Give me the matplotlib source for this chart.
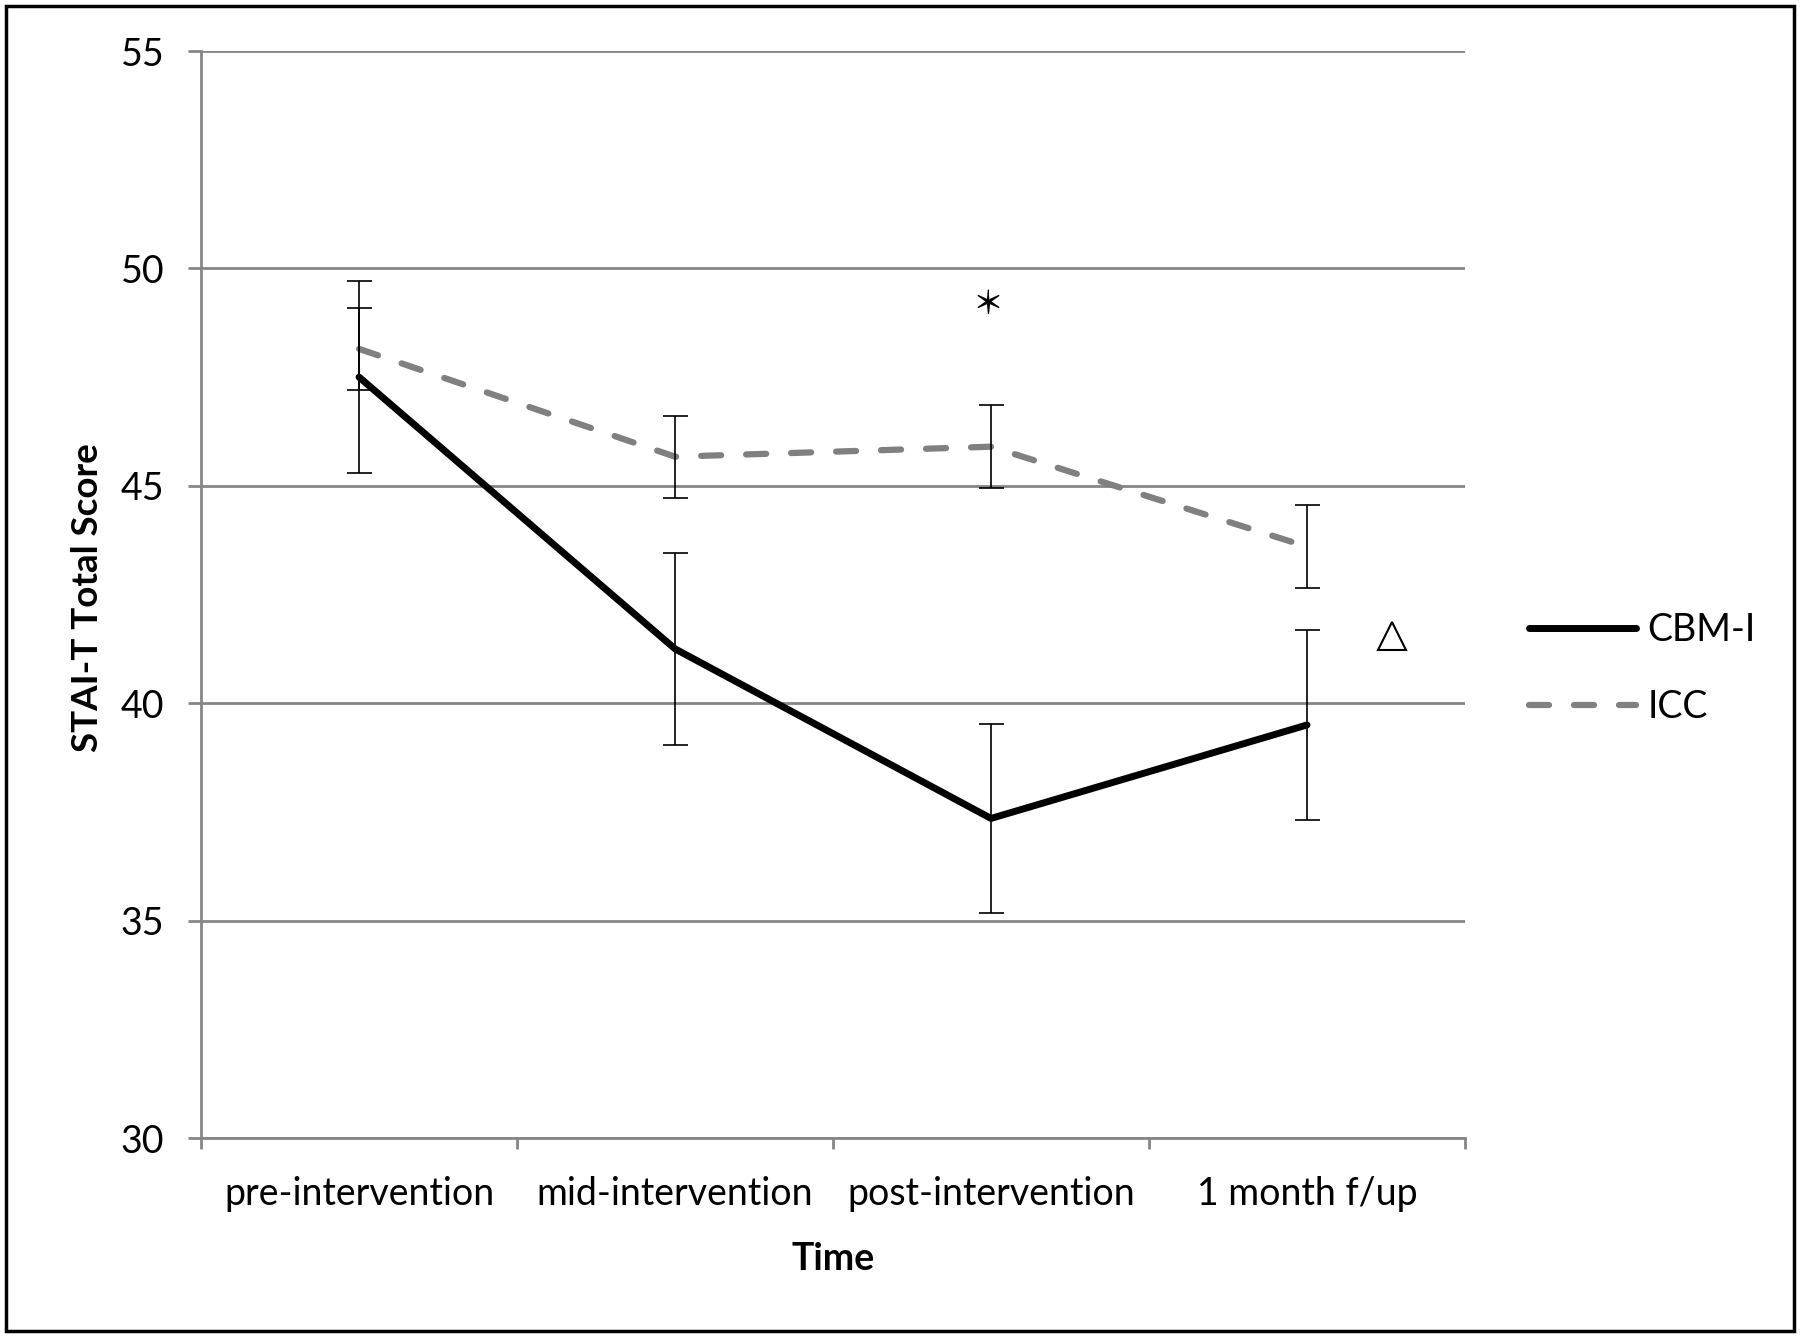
"""STAI-T 총점 변화 (CBM-I vs ICC) 라인 차트 재현."""
import matplotlib

matplotlib.use("Agg")
import matplotlib.pyplot as plt
import numpy as np
from matplotlib.patches import Rectangle

# ── 데이터 ──────────────────────────────────────────────────────
timepoints = ["pre-intervention", "mid-intervention", "post-intervention", "1 month f/up"]
cbm_mean = [47.5, 41.25, 37.35, 39.5]
cbm_err = [2.2, 2.2, 2.17, 2.19]
icc_mean = [48.15, 45.67, 45.9, 43.6]
icc_err = [0.95, 0.94, 0.95, 0.95]

# 유의성 표시 (x: 범주 인덱스 기준, y: 점수)
star_pos = (1.99, 49.25)
tri_pos = (3.27, 41.55)

yticks = [30, 35, 40, 45, 50, 55]

GRID = "#868686"
ICC_COLOR = "#808080"
FONT = "Lato"
FS = 27

plt.rcParams["font.family"] = [FONT, "DejaVu Sans"]


def _asterisk_marker(n=6, inner=0.16):
    """가는 살을 가진 6각 별표 마커 꼭짓점."""
    ang = np.pi / 2 + np.arange(2 * n) * np.pi / n
    r = np.where(np.arange(2 * n) % 2 == 0, 1.0, inner)
    return list(zip(r * np.cos(ang), r * np.sin(ang)))


fig = plt.figure(figsize=(18, 13.36), dpi=100, facecolor="white")
ax = fig.add_axes([0.1117, 0.1482, 0.7022, 0.8136])

x = [i + 0.5 for i in range(len(timepoints))]

# ── 시리즈 ──────────────────────────────────────────────────────
ax.plot(x, cbm_mean, color="black", lw=5, solid_capstyle="round",
        label="CBM-I", zorder=3)
ax.plot(x, icc_mean, color=ICC_COLOR, lw=4.5, dashes=(3.2, 4.0),
        dash_capstyle="round", label="ICC", zorder=3)
ax.errorbar(x, cbm_mean, yerr=cbm_err, fmt="none", ecolor="black",
            elinewidth=1.2, capsize=9, capthick=1.2, zorder=4)
ax.errorbar(x, icc_mean, yerr=icc_err, fmt="none", ecolor="black",
            elinewidth=1.2, capsize=9, capthick=1.2, zorder=4)

ax.plot(star_pos[0] + 0.5, star_pos[1], marker=_asterisk_marker(), ms=17,
        color="black", mec="black", mew=1.0, ls="none", zorder=5)
ax.plot(tri_pos[0] + 0.5, tri_pos[1], marker="^", ms=20, mfc="none",
        mec="black", mew=1.5, ls="none", zorder=5)

# ── 축 ──────────────────────────────────────────────────────────
ax.set_xlim(0, len(timepoints))
ax.set_ylim(30, 55)
ax.set_yticks(yticks)
ax.set_yticklabels([str(v) for v in yticks])
ax.set_xticks(range(len(timepoints) + 1))
ax.set_xticklabels([])
ax.set_xticks(x, timepoints, minor=True)

ax.grid(axis="y", color=GRID, lw=2)
ax.set_axisbelow(True)
for side in ("top", "right"):
    ax.spines[side].set_visible(False)
for side in ("left", "bottom"):
    ax.spines[side].set_color(GRID)
    ax.spines[side].set_linewidth(2)

ax.tick_params(axis="y", which="major", length=9.5, width=2, color=GRID,
               labelsize=FS, pad=17)
ax.tick_params(axis="x", which="major", length=8, width=2, color=GRID)
ax.tick_params(axis="x", which="minor", length=0, labelsize=FS, pad=27)

ax.set_ylabel("STAI-T Total Score", fontsize=26.5, fontweight="bold")
ax.yaxis.set_label_coords(-0.077, 0.497)
ax.set_xlabel("Time", fontsize=27, fontweight="bold", labelpad=22)

ax.legend(loc="center left", bbox_to_anchor=(1.051, 0.432), frameon=False,
          fontsize=FS, handlelength=2.85, handletextpad=0.3, labelspacing=1.1,
          borderpad=0, borderaxespad=0)

# ── 외곽 테두리 ─────────────────────────────────────────────────
fig.patches.append(Rectangle((0.0033, 0.0037), 0.9934, 0.9918,
                             transform=fig.transFigure, fill=False,
                             edgecolor="black", lw=2.5))

fig.savefig("out.png", dpi=100, facecolor="white")
